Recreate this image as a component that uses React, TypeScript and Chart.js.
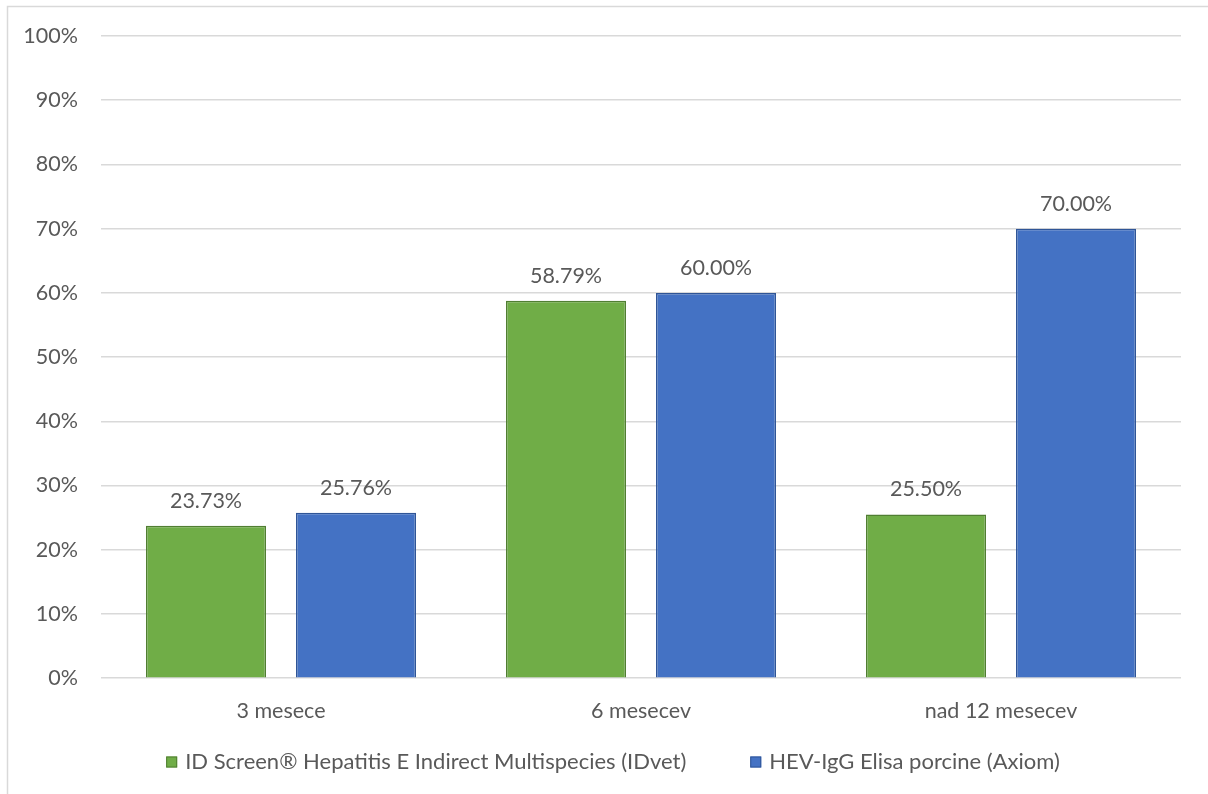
import React, { useEffect, useRef } from "react";
import { Chart, registerables } from "chart.js";

Chart.register(...registerables);

// Age groups on the category axis
const categories = ["3 mesece", "6 mesecev", "nad 12 mesecev"];

// Seroprevalence (%) per test kit
const idvetValues = [23.73, 58.79, 25.5];
const axiomValues = [25.76, 60.0, 70.0];

const seriesNames = [
  "ID Screen® Hepatitis E Indirect Multispecies (IDvet)",
  "HEV-IgG Elisa porcine (Axiom)",
];

const yTickMax = 100;
const yTickStep = 10;

const FONT = "Lato, 'Open Sans', sans-serif";
const FONT_SIZE = 21.5;
const TEXT = "#595959";
const GRID = "#D9D9D9";

// Value labels above each bar
const valueLabels = {
  id: "valueLabels",
  afterDatasetsDraw(chart: any) {
    const ctx = chart.ctx;
    ctx.save();
    ctx.font = `${FONT_SIZE}px ${FONT}`;
    ctx.fillStyle = TEXT;
    ctx.textAlign = "center";
    ctx.textBaseline = "middle";
    chart.data.datasets.forEach((ds: any, di: number) => {
      const meta = chart.getDatasetMeta(di);
      meta.data.forEach((bar: any, i: number) => {
        const v = ds.data[i] as number;
        ctx.fillText(v.toFixed(2) + "%", bar.x, bar.y - 25);
      });
    });
    ctx.restore();
  },
};

// Outer frame and centred legend row
const frameAndLegend = {
  id: "frameAndLegend",
  afterDraw(chart: any) {
    const ctx = chart.ctx;
    ctx.save();
    ctx.strokeStyle = GRID;
    ctx.lineWidth = 1.5;
    ctx.strokeRect(7.5, 6.5, 1400, 1000);

    ctx.font = `22px ${FONT}`;
    ctx.textBaseline = "middle";
    ctx.textAlign = "left";
    const box = 11;
    const boxGap = 8;
    const itemGap = 64;
    const items = chart.data.datasets.map((ds: any) => ({
      label: ds.label as string,
      fill: ds.backgroundColor as string,
      stroke: ds.borderColor as string,
      w: box + boxGap + ctx.measureText(ds.label).width,
    }));
    const total =
      items.reduce((s: number, it: any) => s + it.w, 0) + itemGap * (items.length - 1);
    const cx = 613;
    const cy = 762;
    let x = cx - total / 2;
    items.forEach((it: any) => {
      ctx.fillStyle = it.fill;
      ctx.fillRect(x, cy - box / 2, box, box);
      ctx.strokeStyle = it.stroke;
      ctx.lineWidth = 1;
      ctx.strokeRect(x + 0.5, cy - box / 2 + 0.5, box - 1, box - 1);
      ctx.fillStyle = TEXT;
      ctx.fillText(it.label, x + box + boxGap, cy);
      x += it.w + itemGap;
    });
    ctx.restore();
  },
};

export default function App() {
  const canvasRef = useRef<HTMLCanvasElement | null>(null);

  useEffect(() => {
    const canvas = canvasRef.current;
    if (!canvas) return;
    const chart = new Chart(canvas, {
      type: "bar",
      data: {
        labels: categories,
        datasets: [
          {
            label: seriesNames[0],
            data: idvetValues,
            backgroundColor: "#70AD47",
            borderColor: "#507E32",
            borderWidth: 1.5,
            categoryPercentage: 5 / 6,
            barPercentage: 0.8,
          },
          {
            label: seriesNames[1],
            data: axiomValues,
            backgroundColor: "#4472C4",
            borderColor: "#2F5597",
            borderWidth: 1.5,
            categoryPercentage: 5 / 6,
            barPercentage: 0.8,
          },
        ],
      },
      options: {
        responsive: false,
        animation: false,
        devicePixelRatio: 1,
        layout: { padding: { left: 15, right: 27, top: 36, bottom: 50 } },
        plugins: {
          legend: { display: false },
          tooltip: { enabled: false },
        },
        scales: {
          x: {
            grid: { display: false, drawTicks: false },
            border: { display: false },
            ticks: {
              color: TEXT,
              font: { family: FONT, size: FONT_SIZE },
              padding: 20,
            },
          },
          y: {
            min: 0,
            max: yTickMax,
            ticks: {
              stepSize: yTickStep,
              color: TEXT,
              font: { family: FONT, size: FONT_SIZE },
              padding: 23,
              callback: (v: any) => v + "%",
            },
            grid: { color: GRID, lineWidth: 1.5, drawTicks: false },
            border: { display: false },
            afterFit: (scale: any) => {
              scale.width = 86;
            },
          },
        },
      },
      plugins: [valueLabels, frameAndLegend],
    });
    return () => chart.destroy();
  }, []);

  return (
    <div
      style={{
        position: "fixed",
        left: 0,
        top: 0,
        width: 1208,
        height: 794,
        background: "#fff",
        overflow: "hidden",
      }}
    >
      <canvas
        ref={canvasRef}
        width={1208}
        height={794}
        style={{ width: 1208, height: 794, display: "block" }}
      />
    </div>
  );
}
